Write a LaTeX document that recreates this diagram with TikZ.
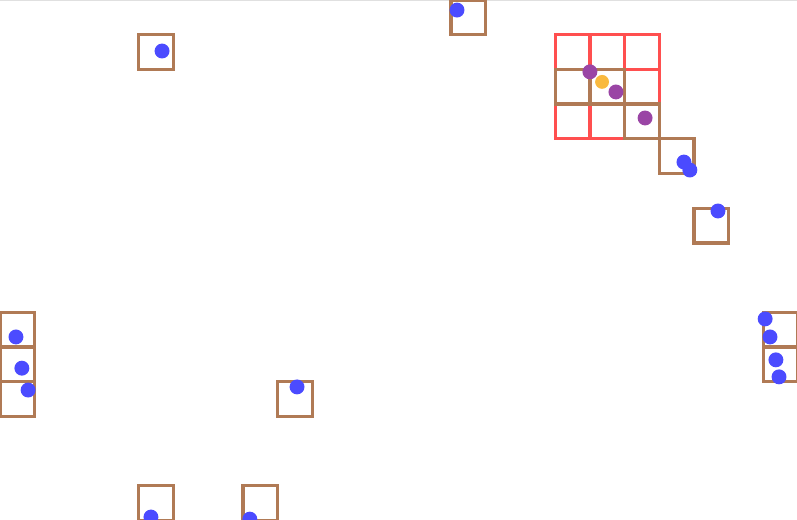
\documentclass[tikz,border=0pt]{standalone}
\usepackage{xcolor}
\usepackage{tikz}

\definecolor{cellbrown}{HTML}{B07A55}
\definecolor{cellred}{HTML}{FF4F4F}
\definecolor{dotblue}{HTML}{4B4BFF}
\definecolor{dotpurple}{HTML}{9A45A5}
\definecolor{dotorange}{HTML}{F9B93F}

\tikzset{
  redcell/.style={draw=cellred,line width=1.6pt},
  browncell/.style={draw=cellbrown,line width=1.6pt},
  agent/.style={fill=dotblue},
}

\begin{document}
\begin{tikzpicture}[x=0.6cm,y=-0.6cm]
    % Cadre de l'image
    \useasboundingbox (0,0) rectangle (22.968,14.957);
    \draw[black!12,line width=0.5pt] (0,0.02) -- (22.968,0.02);

    % Grille rouge
    \foreach \x in {16,17,18} {
        \foreach \y in {1,2,3} {
            \draw[redcell] (\x,\y) rectangle (\x+1,\y+1);
        }
    }

    % Cases visitees
    \foreach \x/\y in {4/1,13/0,16/2,17/2,18/3,19/4,20/6,0/9,0/10,0/11,8/11,4/14,7/14,22/9,22/10} {
        \draw[browncell] (\x,\y) rectangle (\x+1,\y+1);
    }

    % Agents
    \foreach \x/\y in {4.67/1.47,13.17/0.29,19.71/4.67,19.88/4.90,20.69/6.08,
                       0.46/9.71,0.63/10.61,0.81/11.24,8.56/11.15,4.35/14.90,7.20/14.96,
                       22.05/9.19,22.19/9.71,22.36/10.37,22.45/10.86} {
        \fill[agent] (\x,\y) circle (0.215);
    }
    \fill[dotpurple] (17.0,2.07) circle (0.215);
    \fill[dotpurple] (17.75,2.65) circle (0.215);
    \fill[dotpurple] (18.59,3.40) circle (0.215);
    \fill[dotorange] (17.35,2.36) circle (0.2);

\end{tikzpicture}
\end{document}
